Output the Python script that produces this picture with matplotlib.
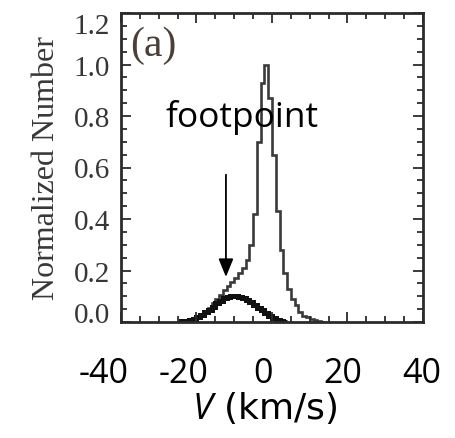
import numpy as np
import matplotlib
matplotlib.use("Agg")
import matplotlib.pyplot as plt
from matplotlib.ticker import MultipleLocator

plt.rcParams['mathtext.fontset'] = 'custom'
plt.rcParams['mathtext.rm'] = 'Open Sans'
plt.rcParams['mathtext.it'] = 'Open Sans:italic'

# Velocity bin edges (km/s), 1 km/s bins
edges_all = [-24, -23, -22, -21, -20, -19, -18, -17, -16, -15, -14, -13, -12,
             -11, -10, -9, -8, -7, -6, -5, -4, -3, -2, -1, 0, 1, 2, 3, 4, 5,
             6, 7, 8, 9, 10, 11, 12, 13, 14]
# Normalized histogram of all pixels
counts_all = [0.002, 0.004, 0.007, 0.012, 0.020, 0.029, 0.040, 0.053, 0.072,
              0.090, 0.105, 0.125, 0.140, 0.155, 0.170, 0.190, 0.210, 0.240,
              0.300, 0.420, 0.700, 0.930, 1.000, 0.870, 0.650, 0.430, 0.280,
              0.190, 0.130, 0.090, 0.065, 0.040, 0.025, 0.018, 0.012, 0.007,
              0.003, 0.001]

# Footpoint subset
edges_foot = [-24, -23, -22, -21, -20, -19, -18, -17, -16, -15, -14, -13, -12,
              -11, -10, -9, -8, -7, -6, -5, -4, -3, -2, -1, 0, 1, 2, 3, 4]
counts_foot = [0.002, 0.004, 0.007, 0.012, 0.019, 0.027, 0.037, 0.048, 0.060,
               0.072, 0.083, 0.092, 0.098, 0.101, 0.100, 0.097, 0.092, 0.085,
               0.077, 0.066, 0.056, 0.045, 0.035, 0.025, 0.016, 0.009, 0.004,
               0.001]

y_ticks = [0.0, 0.2, 0.4, 0.6, 0.8, 1.0, 1.2]
y_ticklabels = ["0.0", "0.2", "0.4", "0.6", "0.8", "1.0", "1.2"]
x_ticks = [-40, -20, 0, 20, 40]
x_ticklabels = ["-40", "-20", "0", "20", "40"]

W, H = 456, 439
fig = plt.figure(figsize=(W / 100, H / 100), dpi=100)

def px_axes(x0, y0, x1, y1):
    return fig.add_axes([x0 / W, 1 - y1 / H, (x1 - x0) / W, (y1 - y0) / H])

ax = px_axes(121, 14, 423, 323)
axis_col = "#2b2b2b"
ax.stairs(counts_all, edges_all, baseline=0, color="#3a3a3a", lw=1.9)
ax.stairs(counts_foot, edges_foot, baseline=0, color="#111111", lw=3.6)

ax.set_xlim(-40, 40)
ax.set_ylim(0, 1.2)
for s in ax.spines.values():
    s.set_linewidth(2.0)
    s.set_color(axis_col)

ax.xaxis.set_major_locator(MultipleLocator(20))
ax.xaxis.set_minor_locator(MultipleLocator(5))
ax.set_yticks(y_ticks)
ax.yaxis.set_minor_locator(MultipleLocator(0.05))
ax.tick_params(which="both", direction="in", top=True, right=True,
               color=axis_col, width=1.3)
ax.tick_params(which="major", length=7)
ax.tick_params(which="minor", length=4)
ax.set_xticklabels([])
ax.set_yticklabels(y_ticklabels, family="Liberation Serif", fontsize=21,
                   color="#363636")
ax.tick_params(axis="y", pad=8)
ylabs = ax.get_yticklabels()
ylabs[0].set_va("baseline")
ylabs[-1].set_va("top")

ax.set_ylabel("Normalized Number", family="Liberation Serif", fontsize=23,
              color="#383838", labelpad=9)

ax.text(0.03, 0.96, "(a)", transform=ax.transAxes, ha="left", va="top",
        family="Liberation Serif", fontsize=30, color="#4a4038")

ax.text(-8.0, 0.76, "footpoint", ha="center", va="baseline",
        family="Open Sans", fontsize=25.5, color="black")
ax.annotate("", xy=(-12.2, 0.175), xytext=(-12.2, 0.572),
            arrowprops=dict(arrowstyle="-|>,head_length=1.1,head_width=0.45",
                            color="black", lw=1.3, shrinkA=0, shrinkB=0))

# Velocity scale labels below the panel
lab = px_axes(104, 360, 422, 361)
lab.set_xlim(-40, 40)
lab.set_ylim(0, 1)
for s in lab.spines.values():
    s.set_visible(False)
lab.set_yticks([])
lab.set_xticks(x_ticks)
lab.set_xticklabels(x_ticklabels, family="Open Sans", fontsize=24.5)
lab.tick_params(axis="x", length=0, pad=-3)

fig.text(265 / W, 1 - 419 / H, r"$\it{V}$ (km/s)", fontsize=26,
         ha="center", va="baseline")

fig.savefig("out.png", dpi=100, facecolor="white")
